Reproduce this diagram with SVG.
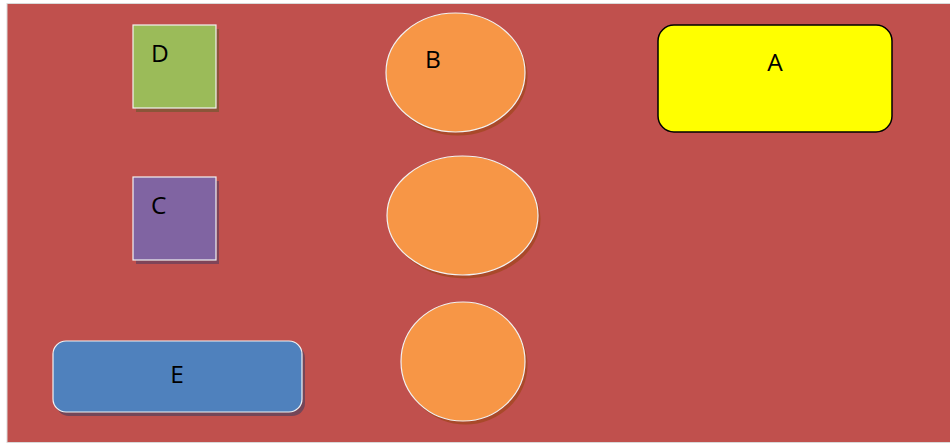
<svg xmlns="http://www.w3.org/2000/svg" width="950" height="445" viewBox="0 0 950 445">
<style>
.lbl{font-family:"Open Sans","Liberation Sans",sans-serif;font-size:24.5px;fill:#000}
.w{stroke:#f2f2f2;stroke-width:1.2}
</style>
<rect x="0" y="0" width="950" height="445" fill="#ffffff"/>
<rect x="7" y="3.5" width="944" height="439" fill="#C0504D" stroke="#d9d9d9" stroke-width="1"/>
<g id="connectors"></g>
<g id="node-D">
<rect x="136" y="29" width="83" height="83" fill="#8B5539"/>
<rect x="133" y="25" width="83" height="83" fill="#9BBB59" class="w"/>
<text x="151" y="62" class="lbl">D</text>
</g>
<g id="node-B">
<ellipse cx="458" cy="76" rx="69.5" ry="59.5" fill="#A9492A"/>
<ellipse cx="455.5" cy="72.5" rx="69.5" ry="59.5" fill="#F79646" class="w"/>
<text x="425" y="68" class="lbl">B</text>
</g>
<g id="node-A">
<rect x="658" y="25" width="234" height="107" rx="16" fill="#FFFF00" stroke="#000" stroke-width="1.5"/>
<text x="775" y="71" class="lbl" text-anchor="middle">A</text>
</g>
<g id="node-C">
<rect x="136" y="181" width="83" height="83" fill="#7F4458"/>
<rect x="133" y="177" width="83" height="83" fill="#8064A2" class="w"/>
<text x="151" y="214" class="lbl">C</text>
</g>
<g id="node-mid">
<ellipse cx="465" cy="219" rx="75.5" ry="59.5" fill="#A9492A"/>
<ellipse cx="462.5" cy="215.5" rx="75.5" ry="59.5" fill="#F79646" class="w"/>
</g>
<g id="node-bottom">
<ellipse cx="465.5" cy="365" rx="62" ry="59.5" fill="#A9492A"/>
<ellipse cx="463" cy="361.5" rx="62" ry="59.5" fill="#F79646" class="w"/>
</g>
<g id="node-E">
<rect x="56" y="345" width="249" height="71" rx="13" fill="#744658"/>
<rect x="53" y="341" width="249" height="71" rx="13" fill="#4F81BD" class="w"/>
<text x="177" y="383" class="lbl" text-anchor="middle">E</text>
</g>
</svg>
